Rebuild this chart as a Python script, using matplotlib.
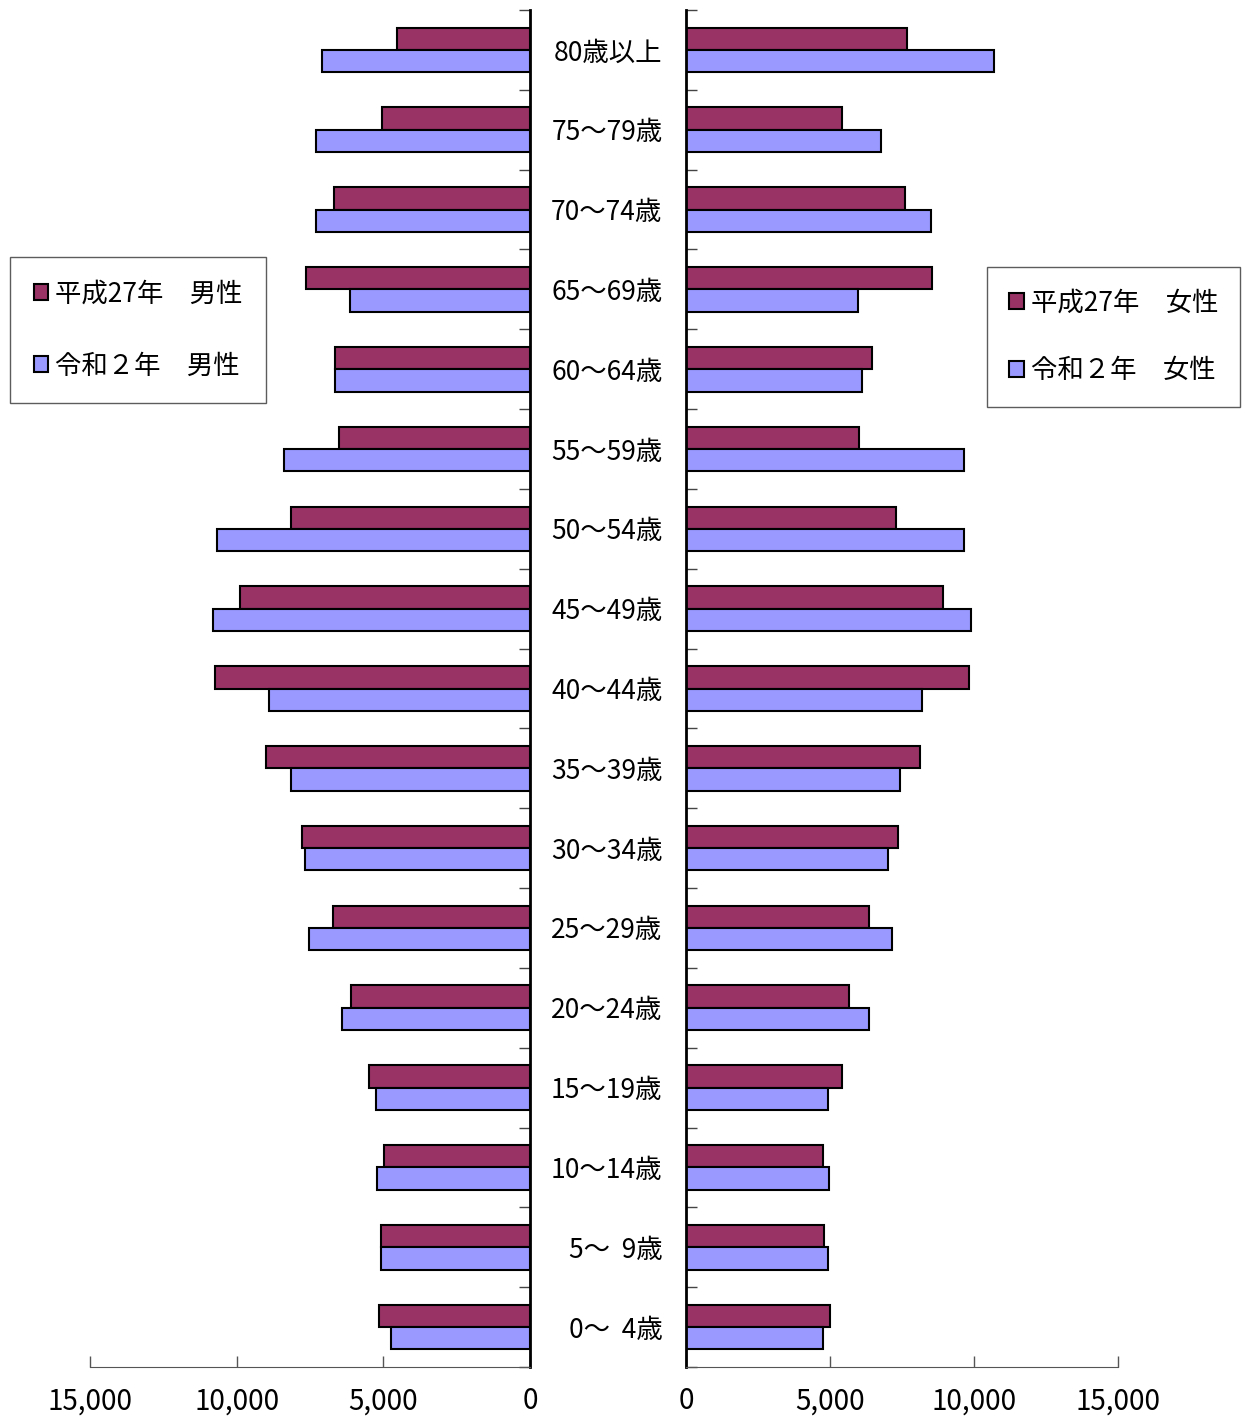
import matplotlib.pyplot as plt
from matplotlib.ticker import FuncFormatter

plt.rcParams['font.family'] = ['Noto Sans CJK JP', 'DejaVu Sans']

# age groups, top to bottom
ages = ["80歳以上", "75～79歳", "70～74歳", "65～69歳", "60～64歳", "55～59歳",
        "50～54歳", "45～49歳", "40～44歳", "35～39歳", "30～34歳", "25～29歳",
        "20～24歳", "15～19歳", "10～14歳", "5～  9歳", "0～  4歳"]

# male population
male_h27 = [4530, 5050, 6680, 7640, 6650, 6510, 8150, 9890, 10740, 9000,
            7770, 6720, 6100, 5490, 4980, 5080, 5150]
male_r2 = [7090, 7300, 7300, 6140, 6650, 8390, 10670, 10810, 8900, 8150,
           7670, 7530, 6410, 5250, 5220, 5080, 4740]

# female population
female_h27 = [7670, 5420, 7600, 8540, 6460, 6010, 7290, 8920, 9830, 8130,
              7360, 6350, 5660, 5420, 4760, 4790, 5000]
female_r2 = [10690, 6770, 8510, 5970, 6110, 9650, 9650, 9900, 8190, 7430,
             7010, 7150, 6350, 4930, 4970, 4930, 4760]

c_h27 = "#993366"
c_r2 = "#9999FF"

W, H = 1251, 1420
fig = plt.figure(figsize=(W / 100, H / 100), dpi=100)

bottom = 1 - 1367 / H
height = (1367 - 10) / H
ax_m = fig.add_axes([90 / W, bottom, (530 - 90) / W, height])
ax_f = fig.add_axes([686 / W, bottom, (1118 - 686) / W, height])

y = list(range(len(ages)))
bh = 0.28
y1 = [v - bh / 2 for v in y]
y2 = [v + bh / 2 for v in y]

bm1 = ax_m.barh(y1, male_h27, height=bh, color=c_h27, edgecolor="black", linewidth=1.5)
bm2 = ax_m.barh(y2, male_r2, height=bh, color=c_r2, edgecolor="black", linewidth=1.5)
bf1 = ax_f.barh(y1, female_h27, height=bh, color=c_h27, edgecolor="black", linewidth=1.5)
bf2 = ax_f.barh(y2, female_r2, height=bh, color=c_r2, edgecolor="black", linewidth=1.5)

fmt = FuncFormatter(lambda v, p: f"{int(v):,}")
bounds = [i - 0.5 for i in range(len(ages) + 1)]

for ax in (ax_m, ax_f):
    ax.set_ylim(len(ages) - 0.5, -0.5)
    ax.set_xticks([0, 5000, 10000, 15000])
    ax.xaxis.set_major_formatter(fmt)
    ax.tick_params(axis="x", direction="in", length=8, width=1, color="#555555",
                   labelsize=20, pad=14)
    ax.spines["bottom"].set_color("#555555")
    ax.spines["top"].set_visible(False)
    ax.set_yticks(bounds)
    ax.set_yticklabels([])
    ax.tick_params(axis="y", which="major", direction="in", length=8, width=1,
                   color="#444444")

ax_m.set_xlim(15000, 0)
ax_m.spines["left"].set_visible(False)
ax_m.spines["right"].set_linewidth(2)
ax_m.yaxis.tick_right()
ax_m.tick_params(axis="y", which="both", left=False, labelleft=False)

ax_f.set_xlim(0, 15000)
ax_f.spines["right"].set_visible(False)
ax_f.spines["left"].set_linewidth(2)
ax_f.set_yticks(y, labels=ages, minor=True)
ax_f.tick_params(axis="y", which="minor", length=0, labelsize=19, pad=17)

leg_kw = dict(loc="upper left", fontsize=19, frameon=True, fancybox=False,
              edgecolor="#333333", handlelength=0.55, handleheight=0.55,
              handletextpad=0.25, borderaxespad=0, bbox_transform=fig.transFigure)
lm = ax_m.legend([bm1, bm2], ["平成27年　男性", "令和２年　男性"],
                 bbox_to_anchor=(10 / W, 1 - 257 / H), labelspacing=1.7,
                 borderpad=0.9, **leg_kw)
lf = ax_f.legend([bf1, bf2], ["平成27年　女性", "令和２年　女性"],
                 bbox_to_anchor=(987 / W, 1 - 267 / H), labelspacing=1.55,
                 borderpad=0.85, **leg_kw)
for lg in (lm, lf):
    lg.get_frame().set_linewidth(1)

fig.savefig("out.png", dpi=100)
